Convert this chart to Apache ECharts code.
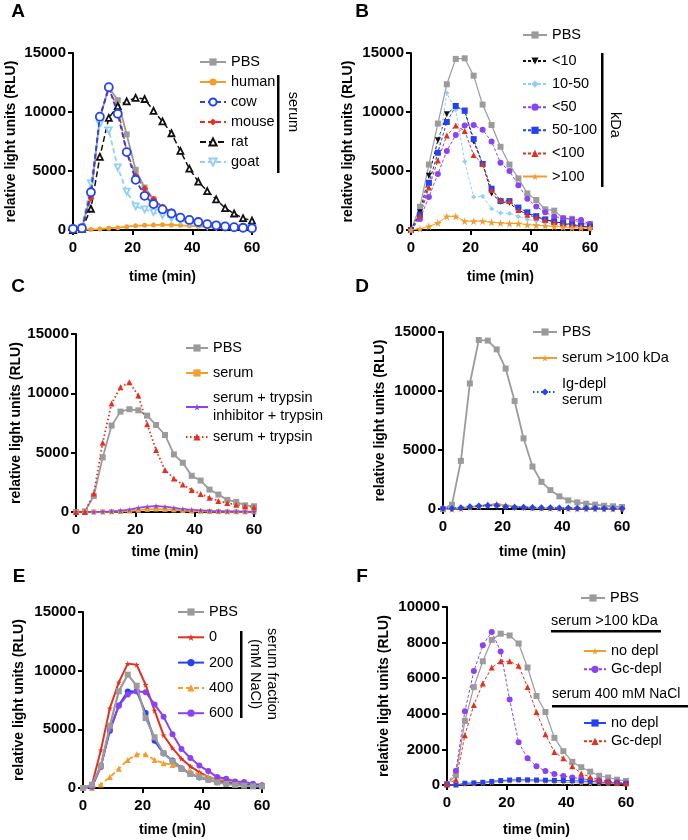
<!DOCTYPE html>
<html><head><meta charset="utf-8">
<script src="https://cdn.jsdelivr.net/npm/echarts@6/dist/echarts.min.js"></script>
<style>html,body{margin:0;padding:0;background:#fff}#c{width:688px;height:840px}</style>
</head><body><div id="c"></div>
<script>
const time = [0,3,6,9,12,15,18,21,24,27,30,33,36,39,42,45,48,51,54,57,60];
// Panel A
const aPBS   = [100,200,3000,9500,12100,11000,8100,5100,3600,2600,1900,1500,1100,850,650,500,400,300,250,200,150];
const aHuman = [0,20,50,80,150,200,280,350,400,420,450,430,400,350,300,250,220,180,150,130,120];
const aCow   = [100,150,3200,9600,12100,9850,6600,4250,2900,2200,1750,1400,1050,850,680,500,400,300,240,190,150];
const aMouse = [100,150,2700,9500,12000,10300,6700,4600,3500,2600,1950,1550,1150,900,720,560,450,350,280,220,180];
const aRat   = [0,100,1800,6200,9500,10500,10900,11200,11100,10100,9200,8200,6700,5200,4100,3300,2600,1850,1400,1000,800];
const aGoat  = [100,200,3950,9000,8450,5300,3250,2000,1750,1500,1250,1000,800,600,450,350,280,220,180,150,130];
// Panel B
const bPBS    = [0,1970,5550,9020,12350,14500,14550,13080,10630,8900,7050,5550,4370,3100,2540,1750,1640,1000,950,550,500];
const bLt10   = [0,1500,4600,7600,9800,10500,10100,7500,5600,3100,2400,2300,1650,1400,1150,850,730,560,480,340,230];
const b10to50 = [0,1100,3800,6500,11600,10200,5800,2800,2850,1800,1450,1400,1150,900,760,600,500,400,320,250,200];
const bLt50   = [0,930,2800,4750,6700,8050,8850,8900,8500,7500,5700,5000,3800,2650,2000,1500,1150,1000,900,850,500];
const b50to100= [0,1300,4000,6550,9150,10500,10100,7700,5600,3500,2450,2450,1900,1500,1150,900,700,550,450,350,280];
const bLt100  = [0,1200,3600,5900,8000,8850,8400,6350,5600,3400,2550,2450,1700,1300,1050,850,650,500,400,300,250];
const bGt100  = [0,100,300,600,1150,1150,750,750,750,650,600,550,550,450,400,350,300,250,200,180,150];
// Panel C
const cPBS    = [0,50,1350,4600,7280,8460,8660,8570,8120,7330,6490,4850,4150,3050,2650,1890,1470,1020,850,560,480];
const cSerum  = [0,0,0,10,20,40,80,150,220,250,220,180,120,80,50,40,30,20,20,10,10];
const cInhib  = [0,0,10,30,60,100,200,350,450,500,450,350,250,180,130,100,80,60,50,40,30];
const cTryp   = [0,0,1550,5840,9140,10520,10940,9810,7390,5220,3530,2820,2310,1860,1520,1210,930,760,620,480,400];
// Panel D
const dPBS      = [0,370,4080,10640,14320,14270,13530,11900,9150,5990,3600,2300,1600,1070,730,560,450,370,280,230,170];
const dSerum100 = [0,0,50,150,250,350,420,300,200,150,100,80,60,50,40,30,30,20,20,20,10];
const dIgDepl   = [50,50,100,200,250,300,300,200,150,150,120,100,100,80,80,70,60,60,50,50,50];
// Panel E
const ePBS = [0,280,1900,5310,8240,9660,8720,5960,4320,2980,2270,1620,1190,940,710,480,340,260,200,140,140];
const e0   = [0,280,3230,6800,9000,10600,10500,8800,6600,4500,3400,2500,1850,1350,950,710,510,370,280,230,200];
const e200 = [0,100,1910,4870,7040,8220,8250,6390,4020,2950,2340,1690,1200,900,700,500,400,300,250,200,150];
const e400 = [0,0,300,930,1630,2390,2870,2870,2390,2110,1970,1720,1450,1150,950,780,640,500,420,350,300];
const e600 = [0,100,1800,5000,7000,7970,8250,8160,7120,6080,4590,3320,2560,1910,1440,930,790,560,510,370,230];
// Panel F
const fPBS       = [50,550,3600,5500,6950,8150,8500,8400,7950,6600,5000,4100,2650,1900,1300,1000,750,520,420,300,230];
const fNoDepl100 = [0,0,30,60,100,150,200,220,230,230,220,200,180,160,140,120,100,90,80,70,60];
const fGc100     = [50,800,4150,6400,7850,8600,7500,4800,2400,1500,1050,780,620,500,420,350,300,250,200,150,100];
const fNoDepl400 = [0,0,100,120,150,200,250,280,300,290,280,270,260,250,240,220,200,170,140,110,80];
const fGc400     = [50,300,2800,4500,5700,6600,6950,6950,6700,5500,4100,2850,1850,1500,1050,650,450,300,200,120,100];

const yTicks15 = {max:15000, interval:5000};
const yTicks10 = {max:10000, interval:2000};

const FF = '"Liberation Sans", Arial, sans-serif';
const GRAY='#9b9b9b', ORANGE='#f29d2c', BLUE='#2343f2', RED='#e2321e', LBLUE='#8fd0f7', PURPLE='#8a43ef', BLACK='#111';
const STAR = 'path://M50,0 L61,35 L98,35 L68,57 L79,91 L50,70 L21,91 L32,57 L2,35 L39,35 Z';

const grids = [
  {left:73, top:53, width:179, height:177},
  {left:411, top:53, width:179, height:177},
  {left:76, top:334, width:178, height:178},
  {left:443, top:332, width:179, height:177},
  {left:83, top:612, width:179, height:176},
  {left:447, top:607, width:179, height:178}
];
const xGap = [40,40,33,36,35,38];
const yGap = [55,56,53,56,57,56];
const yScale = [yTicks15,yTicks15,yTicks15,yTicks15,yTicks15,yTicks10];

const axLine = {show:true, onZero:false, lineStyle:{color:'#000', width:2}};
const axTick = {show:true, length:5, lineStyle:{color:'#000', width:2}};
const axLabX = {color:'#000', fontWeight:'bold', fontSize:15, fontFamily:FF, margin:10, formatter:v=>String(v)};
const axLabY = {color:'#000', fontWeight:'bold', fontSize:15, fontFamily:FF, margin:7, formatter:v=>String(v)};
const nameTS = {color:'#000', fontWeight:'bold', fontSize:14, fontFamily:FF};

const xAxes = grids.map((g,i)=>({type:'value', gridIndex:i, min:0, max:60, interval:20,
  axisLine:axLine, axisTick:axTick, axisLabel:axLabX, splitLine:{show:false},
  name:'time (min)', nameLocation:'middle', nameGap:xGap[i], nameTextStyle:nameTS}));
const yAxes = grids.map((g,i)=>({type:'value', gridIndex:i, min:0, max:yScale[i].max, interval:yScale[i].interval,
  axisLine:axLine, axisTick:axTick, axisLabel:axLabY, splitLine:{show:false},
  name:'relative light units (RLU)', nameLocation:'middle', nameGap:yGap[i], nameTextStyle:nameTS}));

function mk(name, g, ys, o){
  return {name, type:'line', xAxisIndex:g, yAxisIndex:g,
    data: time.map((t,i)=>[t, ys[i]]),
    symbol:o.sym, symbolSize:o.size||6, symbolRotate:o.rot||0,
    lineStyle:{color:o.c, width:o.w||1.5, type:o.dash||'solid'},
    itemStyle:{color:o.hollow?'#fff':o.c, borderColor:o.c, borderWidth:o.hollow?1.8:0},
    clip:false, animation:false, z:o.z||2};
}
const DASH=[5,3], DOT=[1.5,2.5];
const series = [
  mk('PBS#A',0,aPBS,{c:GRAY,sym:'rect',size:6,w:1.8}),
  mk('human#A',0,aHuman,{c:ORANGE,sym:'circle',size:5,w:1.8}),
  mk('cow#A',0,aCow,{c:BLUE,sym:'circle',size:8,hollow:true,dash:DASH,w:1.8,z:3}),
  mk('mouse#A',0,aMouse,{c:RED,sym:'diamond',size:7,dash:DASH,w:1.6}),
  mk('rat#A',0,aRat,{c:BLACK,sym:'triangle',size:6,hollow:true,dash:[6,3],w:1.5}),
  mk('goat#A',0,aGoat,{c:LBLUE,sym:'triangle',rot:180,size:6,hollow:true,dash:DASH,w:1.8}),

  mk('PBS#B',1,bPBS,{c:GRAY,sym:'rect',size:6,w:1.2}),
  mk('<10#B',1,bLt10,{c:BLACK,sym:'triangle',rot:180,size:6,dash:[3,2],w:1}),
  mk('10-50#B',1,b10to50,{c:LBLUE,sym:'diamond',size:5,dash:[3,2],w:1}),
  mk('<50#B',1,bLt50,{c:PURPLE,sym:'circle',size:6,dash:[3,2],w:1}),
  mk('50-100#B',1,b50to100,{c:BLUE,sym:'rect',size:6,dash:[3,2],w:1}),
  mk('<100#B',1,bLt100,{c:RED,sym:'triangle',size:6,dash:[3,2],w:1}),
  mk('>100#B',1,bGt100,{c:ORANGE,sym:STAR,size:8,w:1}),

  mk('PBS#C',2,cPBS,{c:GRAY,sym:'rect',size:6,w:1.8}),
  mk('serum#C',2,cSerum,{c:ORANGE,sym:'rect',size:5,w:1.8}),
  mk('serum + trypsin\ninhibitor + trypsin#C',2,cInhib,{c:PURPLE,sym:STAR,size:6,w:1.8}),
  mk('serum + trypsin#C',2,cTryp,{c:RED,sym:'triangle',size:6,dash:DOT,w:1.8}),

  mk('PBS#D',3,dPBS,{c:GRAY,sym:'rect',size:6,w:1.8}),
  mk('serum >100 kDa#D',3,dSerum100,{c:ORANGE,sym:STAR,size:8,w:1.8}),
  mk('Ig-depl\nserum#D',3,dIgDepl,{c:BLUE,sym:'diamond',size:7,dash:DOT,w:1.8}),

  mk('PBS#E',4,ePBS,{c:GRAY,sym:'rect',size:6,w:2.2,z:3}),
  mk('0#E',4,e0,{c:RED,sym:STAR,size:6,w:2}),
  mk('200#E',4,e200,{c:BLUE,sym:'circle',size:6,w:2}),
  mk('400#E',4,e400,{c:ORANGE,sym:'triangle',size:6,dash:DASH,w:1.8}),
  mk('600#E',4,e600,{c:PURPLE,sym:'circle',size:6,w:2}),

  mk('PBS#F',5,fPBS,{c:GRAY,sym:'rect',size:6,w:1.2}),
  mk('no depl#F1',5,fNoDepl100,{c:ORANGE,sym:STAR,size:6,w:1}),
  mk('Gc-depl#F1',5,fGc100,{c:PURPLE,sym:'circle',size:6,dash:[3,2],w:1}),
  mk('no depl#F2',5,fNoDepl400,{c:BLUE,sym:'rect',size:5,w:1}),
  mk('Gc-depl#F2',5,fGc400,{c:RED,sym:'triangle',size:6,dash:[3,2],w:1})
];

const LFS = 14.5;
function lg(names, left, top, o){
  return {data:names, orient:'vertical', left, top, padding:0,
    itemWidth:o.iw||24, itemHeight:9, itemGap:o.gap, selectedMode:false,
    formatter:n=>n.split('#')[0],
    textStyle:{fontSize:LFS, color:'#000', fontFamily:FF, lineHeight:o.lh||16}};
}
const legends = [
  lg(['PBS#A','human#A','cow#A','mouse#A','rat#A','goat#A'],199,54,{iw:26,gap:4}),
  lg(['PBS#B'],522,27,{iw:24,gap:4}),
  lg(['<10#B','10-50#B','<50#B','50-100#B','<100#B','>100#B'],522,53,{iw:24,gap:7.1}),
  lg(['PBS#C','serum#C','serum + trypsin\ninhibitor + trypsin#C'],185,339,{iw:22,gap:7,lh:18}),
  lg(['serum + trypsin#C'],185,428,{iw:22,gap:7,lh:18}),
  lg(['PBS#D','serum >100 kDa#D','Ig-depl\nserum#D'],532,324,{iw:24,gap:10,lh:16}),
  lg(['PBS#E','0#E','200#E','400#E','600#E'],177,604,{iw:26,gap:9.3}),
  lg(['PBS#F'],580,590,{iw:24,gap:4}),
  lg(['no depl#F1','Gc-depl#F1'],583,643,{iw:22,gap:2.3}),
  lg(['no depl#F2','Gc-depl#F2'],583,715,{iw:22,gap:2.3})
];

function txt(s, x, y, o){
  o = o||{};
  return {type:'text', x, y, rotation:o.rot||0, silent:true,
    style:{text:s, fill:'#000', font:(o.bold?'bold ':'')+(o.size||LFS)+'px '+FF,
      textAlign:o.align||'center', textVerticalAlign:'middle', align:o.align||'center', verticalAlign:'middle'}};
}
function bar(x,y,w,h){ return {type:'rect', silent:true, shape:{x,y,width:w,height:h}, style:{fill:'#000'}}; }
const R = -Math.PI/2;
const graphics = [
  txt('A',18,12,{bold:true,size:19}), txt('B',362,12,{bold:true,size:19}),
  txt('C',18,287,{bold:true,size:19}), txt('D',362,287,{bold:true,size:19}),
  txt('E',19,577,{bold:true,size:19}), txt('F',362,577,{bold:true,size:19}),
  bar(277,75,2.5,98), txt('serum',293,112,{rot:R}),
  bar(601,53,2.5,134), txt('kDa',615,125,{rot:R}),
  bar(240,631,2.5,87), txt('serum fraction',272,674,{rot:R}), txt('(mM NaCl)',255,674,{rot:R}),
  txt('serum >100 kDa',551,621,{align:'left'}), bar(551,630,110,2.5),
  txt('serum 400 mM NaCl',552,694,{align:'left',size:14}), bar(552,705,136,2.5)
];

const chart = echarts.init(document.getElementById('c'), null, {renderer:'canvas'});
chart.setOption({
  animation:false, backgroundColor:'#fff',
  textStyle:{fontFamily:FF},
  grid:grids, xAxis:xAxes, yAxis:yAxes, series, legend:legends,
  graphic:{elements:graphics}
});
</script></body></html>
